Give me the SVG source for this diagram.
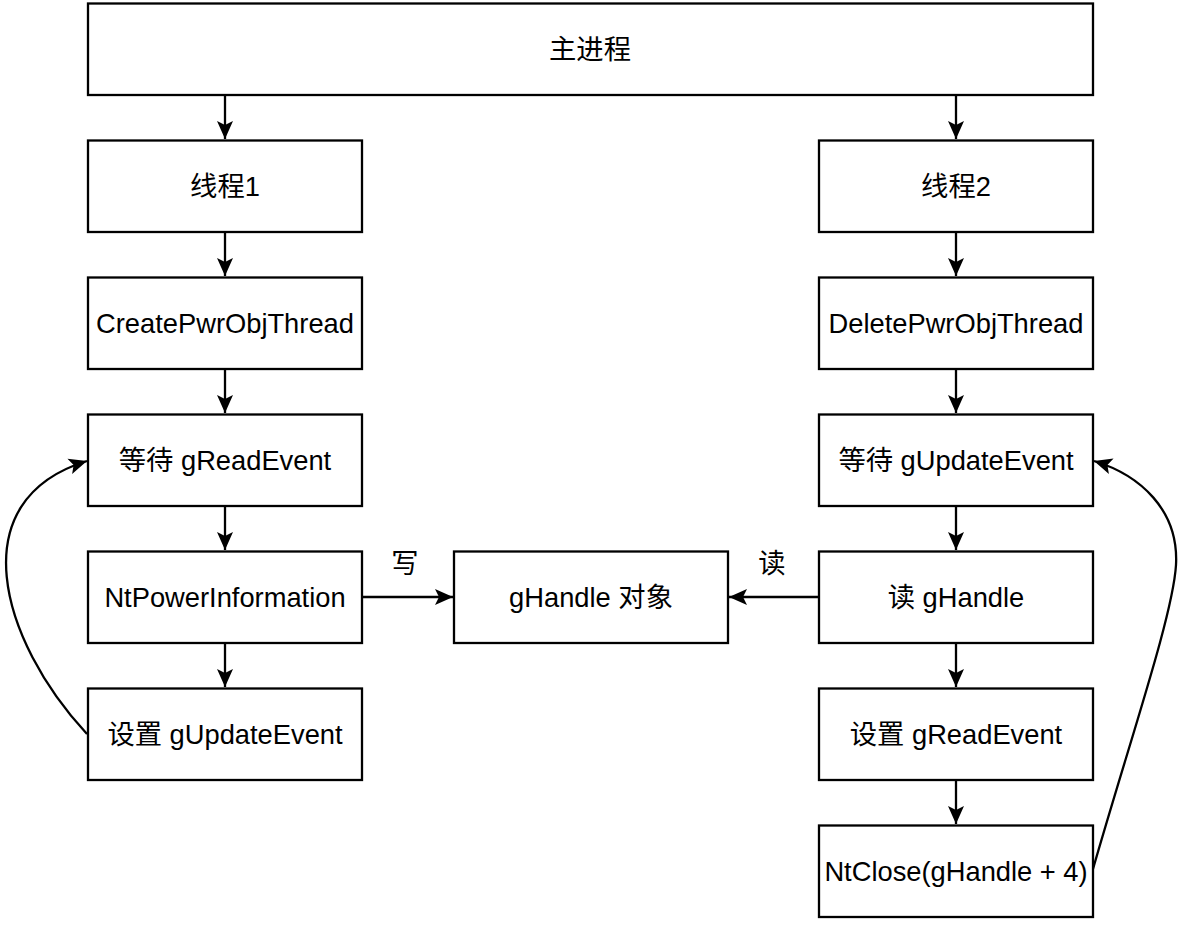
<svg xmlns="http://www.w3.org/2000/svg" width="1182" height="926" viewBox="0 0 1182 926">
<style>
.box{fill:#fff;stroke:#000;stroke-width:2.3}
.t{font-family:"Liberation Sans","Noto Sans CJK SC",sans-serif;font-size:27.3px;fill:#000;text-anchor:middle;dominant-baseline:central}
.c{fill:none;stroke:#000;stroke-width:2.3}
</style>
<defs>
<marker id="ah" viewBox="0 0 22 22" refX="20" refY="11" markerWidth="22" markerHeight="22" markerUnits="userSpaceOnUse" orient="auto">
<path d="M2,3 L20,11 L2,19 L6,11 Z" fill="#000"/>
</marker>
</defs>
<rect width="1182" height="926" fill="#fff"/>
<g id="main"><rect class="box" x="88" y="3.5" width="1005" height="91.5"/><text class="t" x="590" y="49">主进程</text></g>
<g id="t1"><rect class="box" x="88" y="140.5" width="274" height="91.5"/><text class="t" x="225" y="186">线程1</text></g>
<g id="t2"><rect class="box" x="819" y="140.5" width="274" height="91.5"/><text class="t" x="956" y="186">线程2</text></g>
<g id="create"><rect class="box" x="88" y="277.5" width="274" height="91.5"/><text class="t" x="225" y="323">CreatePwrObjThread</text></g>
<g id="delete"><rect class="box" x="819" y="277.5" width="274" height="91.5"/><text class="t" x="956" y="323">DeletePwrObjThread</text></g>
<g id="waitread"><rect class="box" x="88" y="414.5" width="274" height="91.5"/><text class="t" x="225" y="460">等待 gReadEvent</text></g>
<g id="waitupdate"><rect class="box" x="819" y="414.5" width="274" height="91.5"/><text class="t" x="956" y="460">等待 gUpdateEvent</text></g>
<g id="ntpower"><rect class="box" x="88" y="551.5" width="274" height="91.5"/><text class="t" x="225" y="597">NtPowerInformation</text></g>
<g id="ghandle"><rect class="box" x="454" y="551.5" width="274" height="91.5"/><text class="t" x="591" y="597">gHandle 对象</text></g>
<g id="readh"><rect class="box" x="819" y="551.5" width="274" height="91.5"/><text class="t" x="956" y="597">读 gHandle</text></g>
<g id="setupdate"><rect class="box" x="88" y="688.5" width="274" height="91.5"/><text class="t" x="225" y="734">设置 gUpdateEvent</text></g>
<g id="setread"><rect class="box" x="819" y="688.5" width="274" height="91.5"/><text class="t" x="956" y="734">设置 gReadEvent</text></g>
<g id="ntclose"><rect class="box" x="819" y="825.5" width="274" height="91.5"/><text class="t" x="956" y="871">NtClose(gHandle + 4)</text></g>
<g id="connectors">
<path class="c" marker-end="url(#ah)" d="M225 95 V139"/>
<path class="c" marker-end="url(#ah)" d="M956 95 V139"/>
<path class="c" marker-end="url(#ah)" d="M225 232 V276"/>
<path class="c" marker-end="url(#ah)" d="M956 232 V276"/>
<path class="c" marker-end="url(#ah)" d="M225 369 V413"/>
<path class="c" marker-end="url(#ah)" d="M956 369 V413"/>
<path class="c" marker-end="url(#ah)" d="M225 506 V550"/>
<path class="c" marker-end="url(#ah)" d="M956 506 V550"/>
<path class="c" marker-end="url(#ah)" d="M225 643 V687"/>
<path class="c" marker-end="url(#ah)" d="M956 643 V687"/>
<path class="c" marker-end="url(#ah)" d="M956 780 V824"/>
<path class="c" marker-end="url(#ah)" d="M362 597 H453"/>
<path class="c" marker-end="url(#ah)" d="M819 597 H729"/>
<path class="c" marker-end="url(#ah)" d="M87 734 C0 640, -40 500, 87 461"/>
<path class="c" marker-end="url(#ah)" d="M1093 869 C1130 740, 1173 615, 1176 565 C1179 510, 1140 475, 1094 461"/>
<text class="t" x="405" y="563">写</text>
<text class="t" x="772" y="563">读</text>
</g>
</svg>
